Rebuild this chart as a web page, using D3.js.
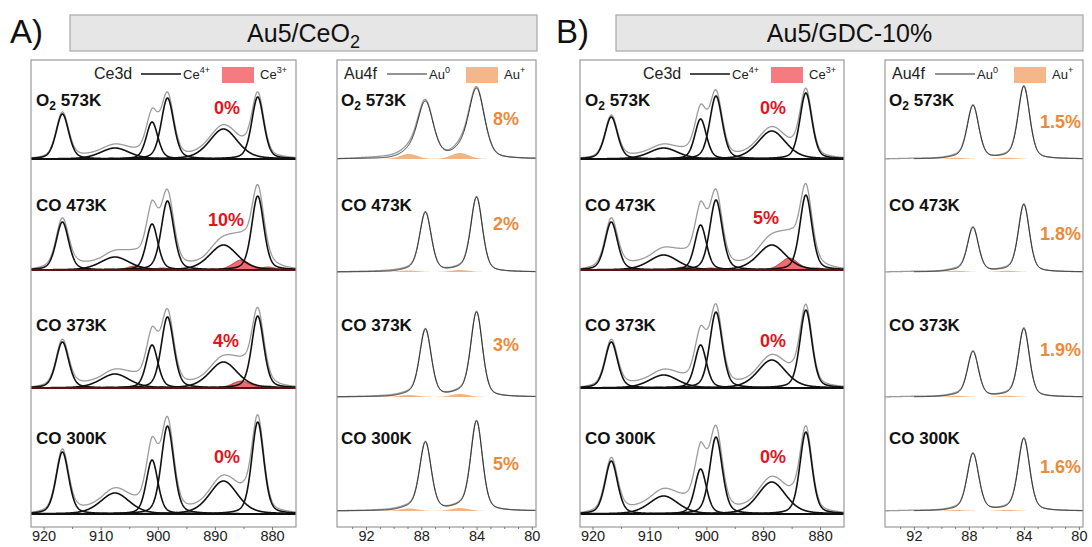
<!DOCTYPE html>
<html><head><meta charset="utf-8">
<script src="https://cdn.jsdelivr.net/npm/d3@7"></script>
<style>
body{margin:0;background:#fff;}
svg{display:block;font-family:Arial,"Liberation Sans",sans-serif;}
</style></head><body>
<svg id="fig" width="1092" height="547"></svg>
<script>
// ---------- data ----------
const gases = ["O2", "CO", "CO", "CO"];
const temps = ["573K", "473K", "373K", "300K"];
const samples = ["Au5/CeO2", "Au5/GDC-10%"];

// Ce 3d fit components (binding energy, eV)
const ce4Centers = [916.7, 907.5, 901.0, 898.3, 888.5, 882.5];
const ce4Fwhm    = [2.6, 6.0, 2.4, 2.6, 5.8, 2.5];
const ce3Centers = [904.0, 899.2, 885.4, 880.7];
const ce3Fwhm    = [3.2, 2.8, 3.6, 3.0];
const ce4HeightsA = [[45,11,37,61,30,62],[48,13,46,69,25,74],[46,14,43,71,26,72],[62,21,54,88,33,92]];
const ce3HeightsA = [[0,0,0,0],[4,2,10,3],[2,1,7,2],[0,0,0,0]];
const ce4HeightsB = [[42,11,40,63,28,66],[48,15,45,70,25,75],[46,13,43,76,28,78],[53,18,45,77,32,82]];
const ce3HeightsB = [[0,0,0,0],[3,2,12,2],[0,0,0,0],[0,0,0,0]];
// measured minus fit, read at a few energies
const ceResidualKnots = [922.2, 914, 910, 906, 903, 901, 899.5, 896, 892, 888, 885, 883, 880, 875.6];
const ceResidualA = [[0,2,2,3,4,6,2,1,2,3,5,2,1,0],[0,5,3,6,8,14,6,3,2,6,12,6,2,0],[0,3,2,4,5,9,3,2,2,4,8,4,1,0],[0,3,2,4,6,12,4,2,2,4,10,4,1,0]];
const ceResidualB = [[0,2,2,3,5,7,2,1,2,3,4,2,1,0],[0,5,4,7,9,14,5,3,3,8,12,6,2,0],[0,3,3,5,6,10,4,2,2,4,7,3,1,0],[0,4,4,7,10,17,8,3,2,4,8,3,1,0]];
const ce3PercentA = ["0%", "10%", "4%", "0%"];
const ce3PercentB = ["0%", "5%", "0%", "0%"];
const ceTicks = [920, 910, 900, 890, 880];
const ceMinorTicks = [915, 905, 895, 885];

// Au 4f fit components
const au0Centers = [87.7, 84.0];
const auPlusCenters = [88.9, 85.2];
const au0HeightsA = [[56,69],[59,74],[67,84],[68,89]];
const au0FwhmA = [1.35, 1.0, 1.0, 1.0];
const auPlusHeightsA = [[5,6],[1.5,2],[2,3],[2.5,3]];
const au0HeightsB = [[53,72],[44,67],[45,68],[57,72]];
const au0FwhmB = [1.0, 0.95, 0.95, 1.0];
const auPlusHeightsB = [[1.2,1.2],[1.2,1.2],[1.2,1.2],[1,1]];
const auPlusFwhm = [1.5, 1.5];
const auResidualKnots = [94.1, 92, 90, 89, 88.3, 87, 86, 85.2, 84.4, 83, 79.7];
const auResidualA = [[0,1,2,3,3,0,1,3,2,0,0],[0,0.5,1,1,1,0,0.5,1,1,0,0],[0,0.5,1,1,1,0,0.5,1,1,0,0],[0,0.5,1,1,1,0,0.5,1,1,0,0]];
const auResidualB = [[0,0.5,0.5,1,1,0,0.5,1,1,0,0],[0,0.5,0.5,1,1,0,0.5,1,1,0,0],[0,0.5,0.5,1,1,0,0.5,1,1,0,0],[0,0.5,0.5,1,1,0,0.5,1,1,0,0]];
const auPlusPercentA = ["8%", "2%", "3%", "5%"];
const auPlusPercentB = ["1.5%", "1.8%", "1.9%", "1.6%"];
const auTicks = [92, 88, 84, 80];
const auMinorTicks = [93, 91, 90, 89, 87, 86, 85, 83, 82, 81];

// ---------- layout ----------
const svg = d3.select("#fig");
const panelTop = 60, panelBottom = 527;
const ceBaselines = [159, 270, 388, 514];
const auBaselines = [159, 272, 397, 511];
const labelY = [100, 205, 325, 438];
const RED = "#e3141c", ORANGE = "#ec8a3c";
const ceDomain = [922.2, 875.8], auDomain = [94.1, 79.7];

const pv = (E, c, h, w, eta = 0.35) => {
  const t = (E - c) / w;
  return h * (eta / (1 + 4 * t * t) + (1 - eta) * Math.exp(-4 * Math.LN2 * t * t));
};

function header(x0, x1, letter, name) {
  const g = svg.append("g");
  g.append("rect").attr("x", x0).attr("y", 15).attr("width", x1 - x0).attr("height", 36)
    .attr("fill", "#e6e6e6").attr("stroke", "#a8a8a8").attr("stroke-width", 1.2);
  g.append("text").attr("x", x0 - 60).attr("y", 43).attr("font-size", 33).attr("fill", "#111").text(letter);
  const t = g.append("text").attr("x", (x0 + x1) / 2).attr("y", 42).attr("text-anchor", "middle")
    .attr("font-size", 25).attr("fill", "#111");
  if (name.endsWith("O2")) {
    t.append("tspan").text(name.slice(0, -1));
    t.append("tspan").attr("font-size", 18).attr("dy", 6).text("2");
  } else t.text(name);
}

function rowLabel(g, x, y, i) {
  const t = g.append("text").attr("x", x).attr("y", y + 6).attr("font-size", 17)
    .attr("font-weight", "bold").attr("fill", "#111");
  if (gases[i] === "O2") {
    t.append("tspan").text("O");
    t.append("tspan").attr("font-size", 12).attr("dy", 4).text("2");
    t.append("tspan").attr("dy", -4).text(" " + temps[i]);
  } else t.text(gases[i] + " " + temps[i]);
}

// legend: label, line sample, first state, filled swatch, second state
function legend(g, spec) {
  const y = 79;
  g.append("text").attr("x", spec.x).attr("y", y).attr("font-size", 16).attr("fill", "#222").text(spec.label);
  g.append("line").attr("x1", spec.lineX).attr("x2", spec.lineX + 40).attr("y1", y - 5).attr("y2", y - 5)
    .attr("stroke", "#111").attr("stroke-width", spec.thin ? 0.9 : 1.6);
  const ta = g.append("text").attr("x", spec.lineX + 42).attr("y", y).attr("font-size", 13).attr("fill", "#222");
  ta.append("tspan").text(spec.a);
  ta.append("tspan").attr("font-size", 9).attr("dy", -6).text(spec.aSup);
  g.append("rect").attr("x", spec.rectX).attr("y", y - 12).attr("width", 32).attr("height", 16).attr("fill", spec.fill);
  const tb = g.append("text").attr("x", spec.rectX + 38).attr("y", y).attr("font-size", 13).attr("fill", "#222");
  tb.append("tspan").text(spec.b);
  tb.append("tspan").attr("font-size", 9).attr("dy", -6).text(spec.bSup);
}

function frame(g, x, x0, x1, ticks, minor) {
  g.append("rect").attr("x", x0).attr("y", panelTop).attr("width", x1 - x0).attr("height", panelBottom - panelTop)
    .attr("fill", "none").attr("stroke", "#9a9a9a").attr("stroke-width", 1.2);
  g.append("g").attr("transform", `translate(0,${panelBottom})`)
    .call(d3.axisBottom(x).tickValues(ticks).tickSize(3).tickPadding(1).tickFormat(d3.format("d")))
    .call(a => a.select(".domain").remove());
  g.append("g").attr("transform", `translate(0,${panelBottom})`)
    .call(d3.axisBottom(x).tickValues(minor).tickSize(2).tickFormat(""))
    .call(a => a.select(".domain").remove());
  g.selectAll(".tick line").attr("stroke", "#777");
  g.selectAll(".tick text").attr("font-size", 14.5).attr("fill", "#222")
    .attr("font-family", "Arial, 'Liberation Sans', sans-serif");
}

function clipped(g, x0, x1) {
  const clipId = "clip" + x0;
  g.append("clipPath").attr("id", clipId).append("rect")
    .attr("x", x0).attr("y", panelTop).attr("width", x1 - x0).attr("height", panelBottom - panelTop);
  return g.append("g").attr("clip-path", `url(#${clipId})`);
}

function cePanel(p) {
  const g = svg.append("g");
  const x = d3.scaleLinear().domain(ceDomain).range([p.x0, p.x1]);
  const plot = clipped(g, p.x0, p.x1);
  const Es = d3.range(ceDomain[0], ceDomain[1] - 0.05, -0.05);
  const resScale = d3.scaleLinear().domain(ceResidualKnots);
  for (let r = 0; r < 4; r++) {
    const y = d3.scaleLinear().domain([0, 100]).range([ceBaselines[r], ceBaselines[r] - 100]);
    resScale.range(p.res[r]);
    const fit = E => d3.sum(ce4Centers, (c, k) => pv(E, c, p.h4[r][k], ce4Fwhm[k])) +
                     d3.sum(ce3Centers, (c, k) => pv(E, c, p.h3[r][k], ce3Fwhm[k]));
    const line = d3.line().x(E => x(E)).y(E => y(fit(E) + resScale(E)));
    plot.append("path").attr("d", line(Es)).attr("fill", "none").attr("stroke", "#9c9c9c").attr("stroke-width", 1.3);
    const hasCe3 = d3.sum(p.h3[r]) > 0;
    if (hasCe3) {
      ce3Centers.forEach((c, k) => {
        if (!p.h3[r][k]) return;
        const area = d3.area().x(E => x(E)).y0(y(0)).y1(E => y(pv(E, c, p.h3[r][k], ce3Fwhm[k])));
        plot.append("path").attr("d", area(Es)).attr("fill", "#e8474f").attr("fill-opacity", 0.8)
          .attr("stroke", "#a3141a").attr("stroke-width", 0.8);
      });
    }
    ce4Centers.forEach((c, k) => {
      const ln = d3.line().x(E => x(E)).y(E => y(pv(E, c, p.h4[r][k], ce4Fwhm[k])));
      plot.append("path").attr("d", ln(Es)).attr("fill", "none").attr("stroke", "#111").attr("stroke-width", 1.6);
    });
    plot.append("line").attr("x1", p.x0).attr("x2", p.x1).attr("y1", y(0)).attr("y2", y(0))
      .attr("stroke", hasCe3 ? "#7a1010" : "#111").attr("stroke-width", 1.6);
    rowLabel(g, p.x0 + 5, labelY[r], r);
    g.append("text").attr("x", p.pctX[r]).attr("y", p.pctY[r] + 6).attr("text-anchor", "middle")
      .attr("font-size", 18).attr("font-weight", "bold").attr("fill", RED).text(p.pct[r]);
  }
  frame(g, x, p.x0, p.x1, ceTicks, ceMinorTicks);
  legend(g, {x: p.x0 + 63, label: "Ce3d", lineX: p.x0 + 110, a: "Ce", aSup: "4+",
             rectX: p.x0 + 191, b: "Ce", bSup: "3+", fill: "#f47c80", thin: false});
}

function auPanel(p) {
  const g = svg.append("g");
  const x = d3.scaleLinear().domain(auDomain).range([p.x0, p.x1]);
  const plot = clipped(g, p.x0, p.x1);
  const Es = d3.range(auDomain[0], auDomain[1] - 0.02, -0.02);
  const EsFit = Es.filter(E => E <= p.fitStart);
  const resScale = d3.scaleLinear().domain(auResidualKnots);
  for (let r = 0; r < 4; r++) {
    const y = d3.scaleLinear().domain([0, 100]).range([auBaselines[r], auBaselines[r] - 100]);
    resScale.range(p.res[r]);
    const fit = E => d3.sum(au0Centers, (c, k) => pv(E, c, p.h0[r][k], p.w0[r])) +
                     d3.sum(auPlusCenters, (c, k) => pv(E, c, p.hp[r][k], auPlusFwhm[k]));
    auPlusCenters.forEach((c, k) => {
      const area = d3.area().x(E => x(E)).y0(y(0)).y1(E => y(pv(E, c, p.hp[r][k], auPlusFwhm[k], 0.1)));
      plot.append("path").attr("d", area(EsFit)).attr("fill", "#f2a66a").attr("fill-opacity", 0.85);
    });
    const line = d3.line().x(E => x(E)).y(E => y(fit(E) + resScale(E)));
    plot.append("path").attr("d", line(Es)).attr("fill", "none").attr("stroke", "#9a9a9a").attr("stroke-width", 1.3);
    const fl = d3.line().x(E => x(E)).y(E => y(fit(E)));
    plot.append("path").attr("d", fl(EsFit)).attr("fill", "none").attr("stroke", "#2a2a2a").attr("stroke-width", 1);
    rowLabel(g, p.x0 + 4, labelY[r], r);
    g.append("text").attr("x", p.pctX).attr("y", p.pctY[r] + 6).attr("text-anchor", p.anchor)
      .attr("font-size", 18).attr("font-weight", "bold").attr("fill", ORANGE).text(p.pct[r]);
  }
  frame(g, x, p.x0, p.x1, auTicks, auMinorTicks);
  legend(g, {x: p.x0 + 7, label: "Au4f", lineX: p.x0 + 50, a: "Au", aSup: "0",
             rectX: p.x0 + 129, b: "Au", bSup: "+", fill: "#f5b78a", thin: true});
}

header(70, 537, "A)", samples[0]);
header(616, 1083, "B)", samples[1]);

cePanel({x0: 31, x1: 296, h4: ce4HeightsA, h3: ce3HeightsA, res: ceResidualA, pct: ce3PercentA,
         pctX: [227, 226, 226, 227], pctY: [108, 220, 341, 457]});
auPanel({x0: 337, x1: 536, h0: au0HeightsA, w0: au0FwhmA, hp: auPlusHeightsA, res: auResidualA, fitStart: 94.1,
         pct: auPlusPercentA, pctX: 506, pctY: [119, 224, 345, 464], anchor: "middle"});
cePanel({x0: 580, x1: 844, h4: ce4HeightsB, h3: ce3HeightsB, res: ceResidualB, pct: ce3PercentB,
         pctX: [773, 766, 773, 773], pctY: [108, 218, 341, 457]});
auPanel({x0: 885, x1: 1083, h0: au0HeightsB, w0: au0FwhmB, hp: auPlusHeightsB, res: auResidualB, fitStart: 92,
         pct: auPlusPercentB, pctX: 1081, pctY: [122, 234, 350, 467], anchor: "end"});
</script>
</body></html>
